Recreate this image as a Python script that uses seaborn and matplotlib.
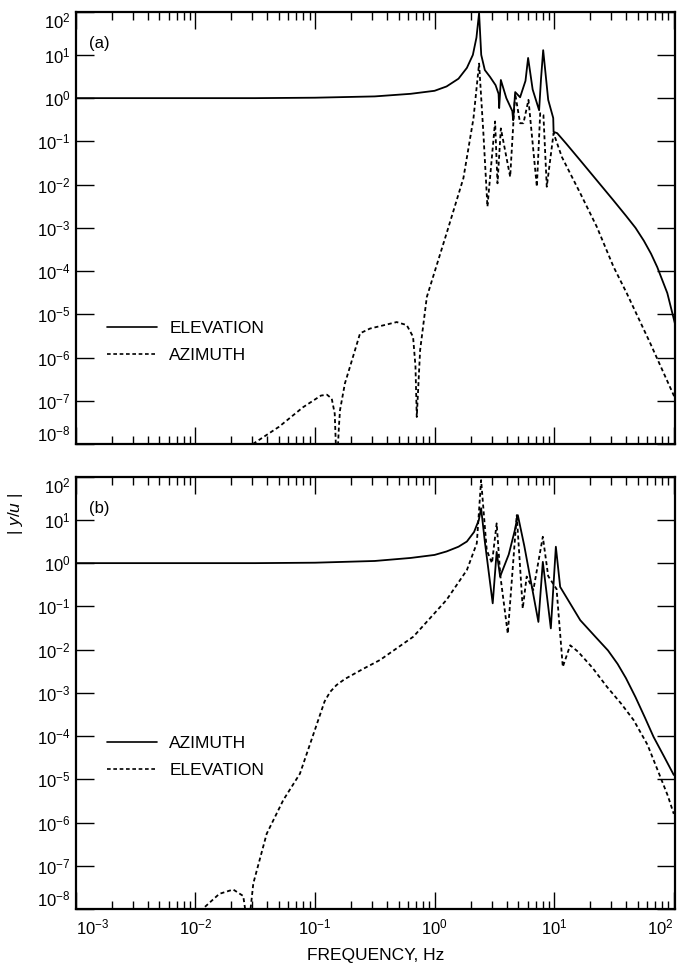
import numpy as np
import pandas as pd
import matplotlib
matplotlib.use('Agg')
import matplotlib.pyplot as plt
import matplotlib.ticker as mticker
import seaborn as sns

# values, stored as log10(freq Hz) / log10(|y/u|)

# panel (a) solid: ELEVATION
elev_a_logf = [-3.0, -1.5, -1.0, -0.5, -0.2, 0.0, 0.1, 0.2, 0.27, 0.32, 0.35, 0.372,
               0.39, 0.42, 0.464, 0.51, 0.535, 0.540, 0.554, 0.60, 0.65, 0.657, 0.674,
               0.715, 0.76, 0.782, 0.82, 0.874, 0.89, 0.908, 0.95, 0.992, 0.995, 1.025,
               1.1, 1.218, 1.35, 1.494, 1.6, 1.68, 1.75, 1.81, 1.862, 1.946, 2.013]
elev_a_logm = [0.0, 0.0, 0.01, 0.04, 0.1, 0.17, 0.27, 0.45, 0.7, 1.0, 1.4, 1.97,
               1.0, 0.65, 0.49, 0.3, 0.1, -0.23, 0.42, 0.0, -0.3, -0.51, 0.14,
               0.02, 0.4, 0.93, 0.2, -0.28, 0.45, 1.11, -0.04, -0.46, -0.78, -0.81,
               -1.05, -1.44, -1.88, -2.36, -2.72, -3.0, -3.3, -3.6, -3.91, -4.51, -5.25]

# panel (a) dashed: AZIMUTH
azim_a_logf = [-1.519, -1.3, -1.1, -0.95, -0.90, -0.86, -0.835, -0.818, -0.80, -0.791,
               -0.75, -0.707, -0.623, -0.540, -0.45, -0.317, -0.233, -0.18, -0.16,
               -0.149, -0.121, -0.065, 0.10, 0.241, 0.325, 0.372, 0.408, 0.442, 0.506,
               0.515, 0.526, 0.554, 0.632, 0.660, 0.674, 0.715, 0.743, 0.785, 0.855,
               0.883, 0.910, 0.938, 0.995, 1.064, 1.218, 1.357, 1.496, 1.608, 1.8, 2.02]
azim_a_logm = [-8.0, -7.6, -7.15, -6.88, -6.86, -6.95, -7.3, -8.6, -7.6, -7.22,
               -6.6, -6.21, -5.44, -5.33, -5.27, -5.18, -5.25, -5.52, -6.2,
               -7.375, -5.83, -4.6, -3.13, -1.85, -0.47, 0.80, -0.81, -2.51, -0.54,
               -1.2, -1.97, -0.70, -1.82, -0.51, 0.1, -0.58, -0.58, -0.04, -2.05,
               -0.35, -0.39, -2.05, -0.81, -1.36, -2.2, -2.98, -3.9, -4.52, -5.65, -7.0]

# panel (b) solid: AZIMUTH
azim_b_logf = [-3.0, -1.5, -1.0, -0.5, -0.2, 0.0, 0.1, 0.2, 0.27, 0.33, 0.37, 0.389,
               0.42, 0.486, 0.519, 0.548, 0.62, 0.67, 0.696, 0.75, 0.868, 0.905, 0.972,
               1.014, 1.050, 1.218, 1.35, 1.45, 1.53, 1.6, 1.68, 1.76, 1.831, 1.92, 2.0]
azim_b_logm = [0.0, 0.0, 0.01, 0.05, 0.12, 0.19, 0.27, 0.38, 0.5, 0.72, 1.0, 1.27,
               0.5, -0.93, 0.26, -0.31, 0.2, 0.75, 1.11, 0.4, -1.36, 0.03, -1.51,
               0.38, -0.55, -1.32, -1.72, -2.02, -2.33, -2.66, -3.1, -3.58, -4.02, -4.48, -4.9]

# panel (b) dashed: ELEVATION
elev_b_logf = [-1.92, -1.8, -1.684, -1.6, -1.558, -1.516, -1.404, -1.265, -1.126, -1.0,
               -0.92, -0.874, -0.82, -0.75, -0.6, -0.456, -0.177, 0.10, 0.27, 0.353,
               0.389, 0.436, 0.48, 0.519, 0.55, 0.612, 0.687, 0.737, 0.77, 0.826, 0.905,
               0.95, 1.02, 1.072, 1.134, 1.2, 1.32, 1.441, 1.56, 1.664, 1.78, 1.887, 1.95, 2.0]
elev_b_logm = [-7.95, -7.65, -7.55, -7.7, -8.5, -7.41, -6.26, -5.48, -4.87, -3.85,
               -3.2, -2.98, -2.82, -2.68, -2.45, -2.24, -1.70, -0.85, -0.16, 0.46,
               1.92, 0.30, 0.0, 0.92, -0.3, -1.63, 1.11, -1.05, -0.31, -0.62, 0.61,
               -0.3, -0.6, -2.40, -1.90, -2.05, -2.42, -2.86, -3.25, -3.63, -4.2, -4.94, -5.38, -5.8]

x_decades = [-3, -2, -1, 0, 1, 2]
y_decades = [-8, -7, -6, -5, -4, -3, -2, -1, 0, 1, 2]

panels = [
    ('(a)', [('ELEVATION', elev_a_logf, elev_a_logm), ('AZIMUTH', azim_a_logf, azim_a_logm)]),
    ('(b)', [('AZIMUTH', azim_b_logf, azim_b_logm), ('ELEVATION', elev_b_logf, elev_b_logm)]),
]

sns.set_style('ticks')
plt.rcParams['font.family'] = ['Liberation Sans', 'DejaVu Sans']
plt.rcParams['mathtext.fontset'] = 'custom'
plt.rcParams['mathtext.rm'] = 'Liberation Sans'
plt.rcParams['mathtext.it'] = 'Liberation Sans:italic'
plt.rcParams['mathtext.default'] = 'regular'
plt.rcParams['text.color'] = 'black'
plt.rcParams['axes.labelcolor'] = 'black'

fig = plt.figure(figsize=(6.83, 9.73), dpi=100)
left, width = 0.111, 0.877
ax_a = fig.add_axes([left, 0.5437, width, 0.4443])
ax_b = fig.add_axes([left, 0.0658, width, 0.4443])

legend_y = [0.236, 0.352]
x_major = [10.0 ** d for d in x_decades]
x_minor = [m * 10.0 ** d for d in x_decades[:-1] for m in range(2, 10)]
y_major = [10.0 ** d for d in y_decades]

for k, (ax, (tag, series)) in enumerate(zip([ax_a, ax_b], panels)):
    frames = []
    for name, lf, lm in series:
        frames.append(pd.DataFrame({'freq': np.power(10.0, lf),
                                    'mag': np.power(10.0, lm),
                                    'series': name}))
    df = pd.concat(frames, ignore_index=True)
    order = [s[0] for s in series]
    sns.lineplot(data=df, x='freq', y='mag', style='series', style_order=order,
                 dashes={order[0]: '', order[1]: (2.2, 1.6)}, color='black',
                 linewidth=1.3, sort=False, estimator=None, ax=ax)
    ax.set(xscale='log', yscale='log', xlim=(1e-3, 1.02e2), ylim=(1e-8, 1e2))
    ax.set_xlabel('')
    ax.set_ylabel('')

    ax.xaxis.set_major_locator(mticker.FixedLocator(x_major))
    ax.xaxis.set_minor_locator(mticker.FixedLocator(x_minor))
    ax.yaxis.set_major_locator(mticker.FixedLocator(y_major))
    ax.yaxis.set_minor_locator(mticker.NullLocator())
    ax.xaxis.set_major_formatter(mticker.LogFormatterSciNotation())
    ax.yaxis.set_major_formatter(mticker.LogFormatterSciNotation())
    ax.xaxis.set_minor_formatter(mticker.NullFormatter())
    ax.tick_params(axis='both', which='both', direction='in', top=True, right=True,
                   colors='black', labelsize=12, pad=4)
    ax.tick_params(axis='x', which='major', length=12, width=1.0, pad=6)
    ax.tick_params(axis='x', which='minor', length=6, width=1.0)
    ax.tick_params(axis='y', which='major', length=13, width=1.0)
    if k == 0:
        ax.tick_params(axis='x', labelbottom=False)
    for sp in ax.spines.values():
        sp.set_linewidth(1.6)
        sp.set_color('black')

    ax.text(0.022, 0.915, tag, transform=ax.transAxes, fontsize=12)

    handles, labels = ax.get_legend_handles_labels()
    leg = ax.legend(handles, labels, loc='center left', bbox_to_anchor=(0.052, legend_y[k]),
                    frameon=False, fontsize=12.5, handlelength=2.9, handletextpad=0.7,
                    labelspacing=0.7, borderpad=0, borderaxespad=0)
    for h in leg.get_lines():
        h.set_linewidth(1.2)

ax_b.set_xlabel('FREQUENCY, Hz', fontsize=12.5, labelpad=8)
fig.canvas.draw()

# the end labels sit pulled inward, as on the scan
xlabels = [t for t in ax_b.get_xticklabels() if t.get_text()]
if xlabels:
    xlabels[0].set_ha('left')
    xlabels[-1].set_ha('right')
    xlabels[-1].set_x(1.02e2)
for ax in (ax_a, ax_b):
    ylabels = [t for t in ax.get_yticklabels() if t.get_text()]
    if ylabels:
        ylabels[0].set_va('bottom')
        ylabels[-1].set_va('top')

fig.text(0.022, 0.472, '| $\\it{y/u}$ |', rotation=90, fontsize=12.5,
         ha='center', va='center')

fig.savefig('out.png', dpi=100)
